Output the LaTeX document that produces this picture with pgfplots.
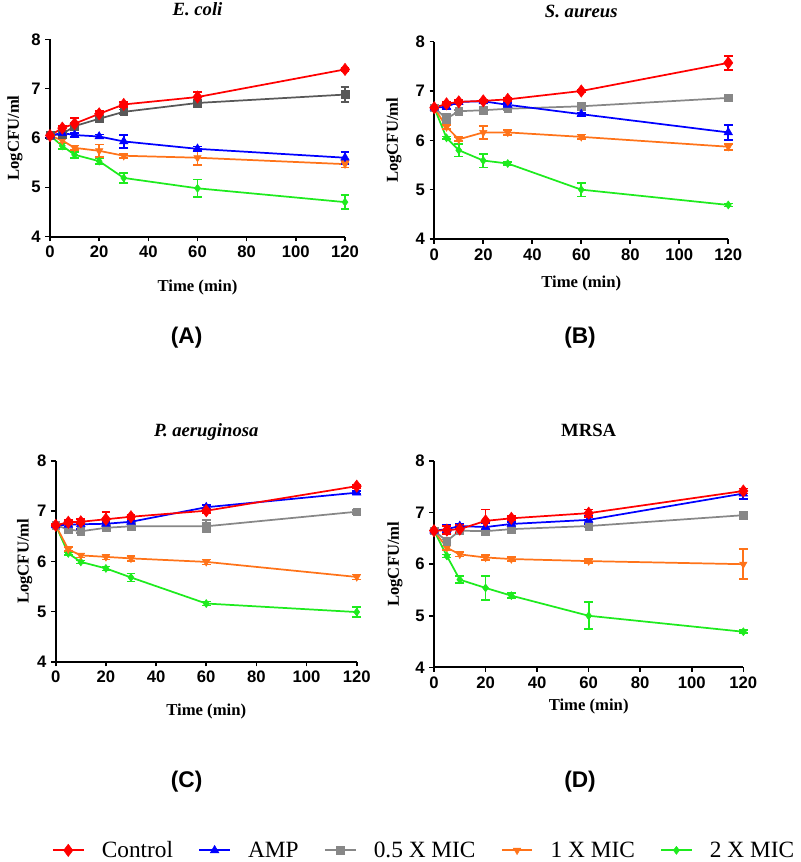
\documentclass[border=0pt]{standalone}
\usepackage{pgfplots}
\pgfplotsset{compat=1.18}
\usepackage{fontspec}
\setmainfont{Liberation Serif}
\setsansfont{Liberation Sans}
\definecolor{cred}{RGB}{255,0,0}
\definecolor{cblue}{RGB}{0,0,255}
\definecolor{cgrayA}{RGB}{88,88,88}
\definecolor{cgray}{RGB}{135,135,135}
\definecolor{corange}{RGB}{255,115,25}
\definecolor{cgreen}{RGB}{30,235,30}
\pgfplotsset{
  panel/.style={
    scale only axis, anchor=south west,
    xmin=0, xmax=120, ymin=4, ymax=8,
    axis x line*=bottom, axis y line*=left,
    axis line style={line width=1.5pt, black},
    xtick={0,20,...,120}, ytick={4,5,6,7,8},
    tick align=outside, major tick length=3.5pt,
    every tick/.style={black, line width=1.2pt},
    tick label style={font=\sffamily\bfseries\fontsize{12.5}{13}\selectfont},
    /pgf/number format/assume math mode=true,
    clip=false,
    every axis title shift=0pt,
    label style={font=\bfseries\fontsize{12.5}{14}\selectfont},
    title style={font=\bfseries\itshape\fontsize{14}{16}\selectfont, anchor=center},
    ylabel={LogCFU/ml}, xlabel={Time (min)},
  },
  eb/.style={error bars/y dir=both, error bars/y explicit,
    error bars/error bar style={line width=1.3pt, solid},
    error bars/error mark options={rotate=90, mark size=3.3pt, line width=1.3pt}},
  sCtrl/.style={color=cred, line width=1.3pt, mark=diamond*, mark size=4.6pt, mark options={line width=0.4pt}, eb},
  sAmp/.style={color=cblue, line width=1.3pt, mark=triangle*, mark size=3.7pt, mark options={line width=0.4pt}, eb},
  sHalf/.style={color=cgray, line width=1.3pt, mark=square*, mark size=2.9pt, mark options={line width=0.4pt}, eb},
  sHalfA/.style={color=cgrayA, line width=1.3pt, mark=square*, mark size=2.9pt, mark options={line width=0.4pt}, eb},
  sOne/.style={color=corange, line width=1.3pt, mark=triangle*, mark size=3.2pt, mark options={rotate=180, line width=0.4pt}, eb},
  sTwo/.style={color=cgreen, line width=1.3pt, mark=diamond*, mark size=3pt, mark options={line width=0.4pt}, eb},
  legend image code/.code={\draw[mark repeat=2,mark phase=2,#1] plot coordinates {(0pt,0pt)(11.5pt,0pt)(23pt,0pt)};},
}
\begin{document}
\begin{tikzpicture}
\useasboundingbox (0,0) rectangle (600pt,646.5pt);
% ---------------- (A) E. coli
\begin{axis}[panel, at={(37.5pt,469pt)}, width=221.25pt, height=148pt,
  title={E. coli},
  title style={at={(axis description cs:0.5,1.152)}},
  ylabel style={at={(axis description cs:-0.119,0.5)}, anchor=center},
  xlabel style={at={(axis description cs:0.5,-0.259)}, anchor=center}]
\addplot[sTwo] table[row sep=\\, x index=0, y index=1, y error index=2] {
0 6.05 0.02\\ 5 5.84 0.06\\ 10 5.66 0.06\\ 20 5.53 0.06\\ 30 5.19 0.10\\ 60 4.98 0.18\\ 120 4.70 0.14\\};
\addplot[sOne] table[row sep=\\, x index=0, y index=1, y error index=2] {
0 6.05 0.02\\ 5 5.95 0.04\\ 10 5.80 0.05\\ 20 5.74 0.13\\ 30 5.64 0.04\\ 60 5.60 0.15\\ 120 5.47 0.07\\};
\addplot[sHalfA] table[row sep=\\, x index=0, y index=1, y error index=2] {
0 6.05 0.02\\ 5 6.08 0.03\\ 10 6.24 0.05\\ 20 6.39 0.04\\ 30 6.53 0.05\\ 60 6.71 0.04\\ 120 6.88 0.15\\};
\addplot[sAmp] table[row sep=\\, x index=0, y index=1, y error index=2] {
0 6.05 0.02\\ 5 6.10 0.03\\ 10 6.06 0.04\\ 20 6.03 0.04\\ 30 5.93 0.13\\ 60 5.78 0.05\\ 120 5.60 0.12\\};
\addplot[sCtrl] table[row sep=\\, x index=0, y index=1, y error index=2] {
0 6.05 0.02\\ 5 6.20 0.05\\ 10 6.29 0.12\\ 20 6.49 0.05\\ 30 6.68 0.05\\ 60 6.83 0.10\\ 120 7.39 0.03\\};
\end{axis}
% ---------------- (B) S. aureus
\begin{axis}[panel, at={(325.7pt,467.25pt)}, width=220.5pt, height=148pt,
  title={S. aureus},
  title style={at={(axis description cs:0.5,1.152)}},
  ylabel style={at={(axis description cs:-0.137,0.5)}, anchor=center},
  xlabel style={at={(axis description cs:0.5,-0.228)}, anchor=center}]
\addplot[sTwo] table[row sep=\\, x index=0, y index=1, y error index=2] {
0 6.66 0.02\\ 5 6.05 0.03\\ 10 5.80 0.13\\ 20 5.59 0.14\\ 30 5.53 0.03\\ 60 5.00 0.14\\ 120 4.69 0.03\\};
\addplot[sOne] table[row sep=\\, x index=0, y index=1, y error index=2] {
0 6.66 0.02\\ 5 6.27 0.04\\ 10 6.02 0.04\\ 20 6.16 0.13\\ 30 6.16 0.05\\ 60 6.07 0.05\\ 120 5.87 0.06\\};
\addplot[sHalf] table[row sep=\\, x index=0, y index=1, y error index=2] {
0 6.66 0.02\\ 5 6.44 0.10\\ 10 6.59 0.03\\ 20 6.61 0.03\\ 30 6.64 0.03\\ 60 6.69 0.03\\ 120 6.86 0.03\\};
\addplot[sAmp] table[row sep=\\, x index=0, y index=1, y error index=2] {
0 6.66 0.02\\ 5 6.68 0.05\\ 10 6.78 0.04\\ 20 6.79 0.04\\ 30 6.72 0.03\\ 60 6.53 0.03\\ 120 6.16 0.15\\};
\addplot[sCtrl] table[row sep=\\, x index=0, y index=1, y error index=2] {
0 6.66 0.02\\ 5 6.74 0.03\\ 10 6.78 0.03\\ 20 6.80 0.03\\ 30 6.83 0.03\\ 60 7.00 0.03\\ 120 7.57 0.14\\};
\end{axis}
% ---------------- (C) P. aeruginosa
\begin{axis}[panel, at={(41.8pt,150.2pt)}, width=225.75pt, height=150.5pt,
  title={P. aeruginosa},
  title style={at={(axis description cs:0.5,1.145)}},
  ylabel style={at={(axis description cs:-0.103,0.5)}, anchor=center},
  xlabel style={at={(axis description cs:0.5,-0.25)}, anchor=center},
  legend columns=5,
  legend style={at={(axis description cs:1.225,-0.94)}, anchor=center, draw=none, fill=none,
    font=\fontsize{17.5}{18}\selectfont,
    /tikz/every odd column/.append style={column sep=11pt},
    /tikz/every even column/.append style={column sep=17pt}}]
\addlegendimage{sCtrl}
\addlegendimage{sAmp}
\addlegendimage{sHalf}
\addlegendimage{sOne}
\addlegendimage{sTwo}
\addplot[sTwo] table[row sep=\\, x index=0, y index=1, y error index=2] {
0 6.72 0.02\\ 5 6.16 0.03\\ 10 5.99 0.03\\ 20 5.86 0.04\\ 30 5.68 0.08\\ 60 5.16 0.04\\ 120 4.99 0.10\\};
\addplot[sOne] table[row sep=\\, x index=0, y index=1, y error index=2] {
0 6.72 0.02\\ 5 6.24 0.04\\ 10 6.12 0.04\\ 20 6.09 0.05\\ 30 6.06 0.05\\ 60 5.99 0.05\\ 120 5.69 0.05\\};
\addplot[sHalf] table[row sep=\\, x index=0, y index=1, y error index=2] {
0 6.72 0.02\\ 5 6.64 0.03\\ 10 6.60 0.03\\ 20 6.67 0.03\\ 30 6.70 0.03\\ 60 6.70 0.12\\ 120 6.99 0.04\\};
\addplot[sAmp] table[row sep=\\, x index=0, y index=1, y error index=2] {
0 6.72 0.02\\ 5 6.73 0.05\\ 10 6.74 0.10\\ 20 6.75 0.04\\ 30 6.79 0.04\\ 60 7.08 0.04\\ 120 7.37 0.03\\};
\addplot[sCtrl] table[row sep=\\, x index=0, y index=1, y error index=2] {
0 6.72 0.02\\ 5 6.78 0.04\\ 10 6.79 0.05\\ 20 6.84 0.15\\ 30 6.89 0.04\\ 60 7.01 0.04\\ 120 7.50 0.03\\};
\legend{Control, AMP, 0.5 X MIC, 1 X MIC, 2 X MIC}
\end{axis}
% ---------------- (D) MRSA
\begin{axis}[panel, at={(325.5pt,146pt)}, width=232pt, height=154.7pt,
  title={MRSA},
  title style={at={(axis description cs:0.5,1.15)}, font=\bfseries\fontsize{14}{16}\selectfont},
  ylabel style={at={(axis description cs:-0.126,0.5)}, anchor=center},
  xlabel style={at={(axis description cs:0.5,-0.189)}, anchor=center}]
\addplot[sTwo] table[row sep=\\, x index=0, y index=1, y error index=2] {
0 6.65 0.02\\ 5 6.16 0.03\\ 10 5.70 0.07\\ 20 5.54 0.23\\ 30 5.39 0.05\\ 60 5.00 0.26\\ 120 4.69 0.03\\};
\addplot[sOne] table[row sep=\\, x index=0, y index=1, y error index=2] {
0 6.65 0.02\\ 5 6.32 0.04\\ 10 6.19 0.04\\ 20 6.13 0.05\\ 30 6.10 0.04\\ 60 6.06 0.04\\ 120 6.00 0.29\\};
\addplot[sHalf] table[row sep=\\, x index=0, y index=1, y error index=2] {
0 6.65 0.02\\ 5 6.45 0.03\\ 10 6.65 0.03\\ 20 6.64 0.03\\ 30 6.68 0.03\\ 60 6.74 0.03\\ 120 6.95 0.03\\};
\addplot[sAmp] table[row sep=\\, x index=0, y index=1, y error index=2] {
0 6.65 0.02\\ 5 6.68 0.08\\ 10 6.74 0.05\\ 20 6.72 0.08\\ 30 6.78 0.04\\ 60 6.86 0.08\\ 120 7.37 0.10\\};
\addplot[sCtrl] table[row sep=\\, x index=0, y index=1, y error index=2] {
0 6.65 0.02\\ 5 6.66 0.08\\ 10 6.68 0.08\\ 20 6.84 0.22\\ 30 6.89 0.04\\ 60 6.99 0.07\\ 120 7.42 0.05\\};
\end{axis}
% panel labels
\node[font=\sffamily\bfseries\fontsize{17}{20}\selectfont] at (140pt,393pt) {(A)};
\node[font=\sffamily\bfseries\fontsize{17}{20}\selectfont] at (435pt,393pt) {(B)};
\node[font=\sffamily\bfseries\fontsize{17}{20}\selectfont] at (140pt,60pt) {(C)};
\node[font=\sffamily\bfseries\fontsize{17}{20}\selectfont] at (435pt,60pt) {(D)};
\end{tikzpicture}
\end{document}
